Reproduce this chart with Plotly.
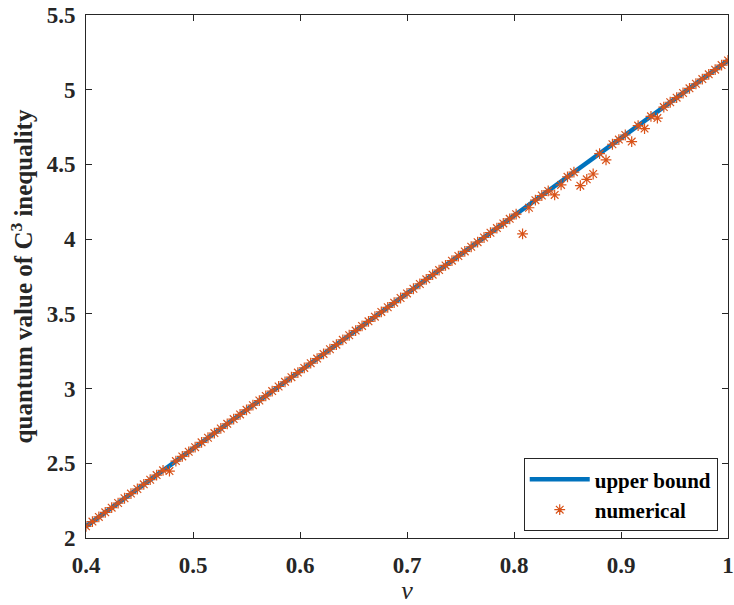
import plotly.graph_objects as go

# upper bound (read at nu = 0.4, 0.5, ..., 1.0)
nu_bound = [0.4, 0.5, 0.6, 0.7, 0.8, 0.9, 1.0]
upper_bound = [2.078, 2.598, 3.118, 3.637, 4.157, 4.677, 5.196]

# numerical results, nu from 0.4 to 1.0 in steps of 0.006
nu_start = 0.4
nu_step = 0.006
numerical = [
    2.078, 2.110, 2.141, 2.172, 2.203, 2.234, 2.266, 2.297, 2.328, 2.359,
    2.390, 2.421, 2.453, 2.448, 2.515, 2.546, 2.577, 2.608, 2.640, 2.671,
    2.702, 2.733, 2.764, 2.796, 2.827, 2.858, 2.889, 2.920, 2.951, 2.983,
    3.014, 3.045, 3.076, 3.107, 3.138, 3.170, 3.201, 3.232, 3.263, 3.294,
    3.326, 3.357, 3.388, 3.419, 3.450, 3.481, 3.513, 3.544, 3.575, 3.606,
    3.637, 3.668, 3.700, 3.731, 3.762, 3.793, 3.824, 3.856, 3.887, 3.918,
    3.949, 3.980, 4.011, 4.043, 4.074, 4.105, 4.136, 4.167, 4.035, 4.210,
    4.261, 4.292, 4.323, 4.296, 4.363, 4.417, 4.448, 4.358, 4.400, 4.436,
    4.572, 4.530, 4.635, 4.666, 4.697, 4.653, 4.760, 4.740, 4.822, 4.810,
    4.884, 4.916, 4.947, 4.978, 5.009, 5.040, 5.071, 5.103, 5.134, 5.165,
    5.196,
]
nu_numerical = [round(nu_start + nu_step * i, 3) for i in range(len(numerical))]

x_ticks = [0.4, 0.5, 0.6, 0.7, 0.8, 0.9, 1.0]
x_tick_labels = ["0.4", "0.5", "0.6", "0.7", "0.8", "0.9", "1"]
y_ticks = [2, 2.5, 3, 3.5, 4, 4.5, 5, 5.5]
y_tick_labels = ["2", "2.5", "3", "3.5", "4", "4.5", "5", "5.5"]

FONT = "Times New Roman, Liberation Serif, serif"
AX = "#262626"

fig = go.Figure()
fig.add_trace(go.Scatter(
    x=nu_bound, y=upper_bound, mode="lines", name="upper bound",
    line=dict(color="#0072BD", width=4.5),
))
fig.add_trace(go.Scatter(
    x=nu_numerical, y=numerical, mode="markers", name="numerical",
    marker=dict(symbol="asterisk-open", size=9, color="#D95319",
                line=dict(color="#D95319", width=1.2)),
))

fig.update_layout(
    width=734, height=605,
    margin=dict(l=86, r=6, t=15, b=67),
    paper_bgcolor="white", plot_bgcolor="white",
    font=dict(family=FONT, size=18, color=AX),
    showlegend=True,
    legend=dict(
        x=0.984, y=0.013, xanchor="right", yanchor="bottom",
        bgcolor="white", bordercolor=AX, borderwidth=1,
        font=dict(family=FONT, size=21, color="black", weight="bold"),
        tracegroupgap=0, itemwidth=60,
    ),
)
fig.update_xaxes(
    range=[0.4, 1.0], tickvals=x_ticks, ticktext=x_tick_labels,
    showline=True, linecolor=AX, linewidth=1, mirror="ticks",
    ticks="inside", ticklen=6, tickcolor=AX, showgrid=False, zeroline=False,
    tickfont=dict(family=FONT, size=23, color=AX, weight="bold"),
    ticklabelstandoff=6, ticklabeloverflow="allow", automargin=False,
    title=dict(text="<i>ν</i>", font=dict(family=FONT, size=26, color=AX), standoff=4),
)
fig.update_yaxes(
    range=[2, 5.5], tickvals=y_ticks, ticktext=y_tick_labels,
    showline=True, linecolor=AX, linewidth=1, mirror="ticks",
    ticks="inside", ticklen=6, tickcolor=AX, showgrid=False, zeroline=False,
    tickfont=dict(family=FONT, size=23, color=AX, weight="bold"),
    ticklabelstandoff=5, ticklabeloverflow="allow", automargin=False,
    title=dict(text="quantum value of C<sup>3</sup> inequality",
               font=dict(family=FONT, size=25, color=AX, weight="bold"), standoff=6),
)

fig.write_html(
    "out.html",
    config={"displayModeBar": False},
    post_script="document.body.style.margin='0';document.body.style.overflow='hidden';",
)
